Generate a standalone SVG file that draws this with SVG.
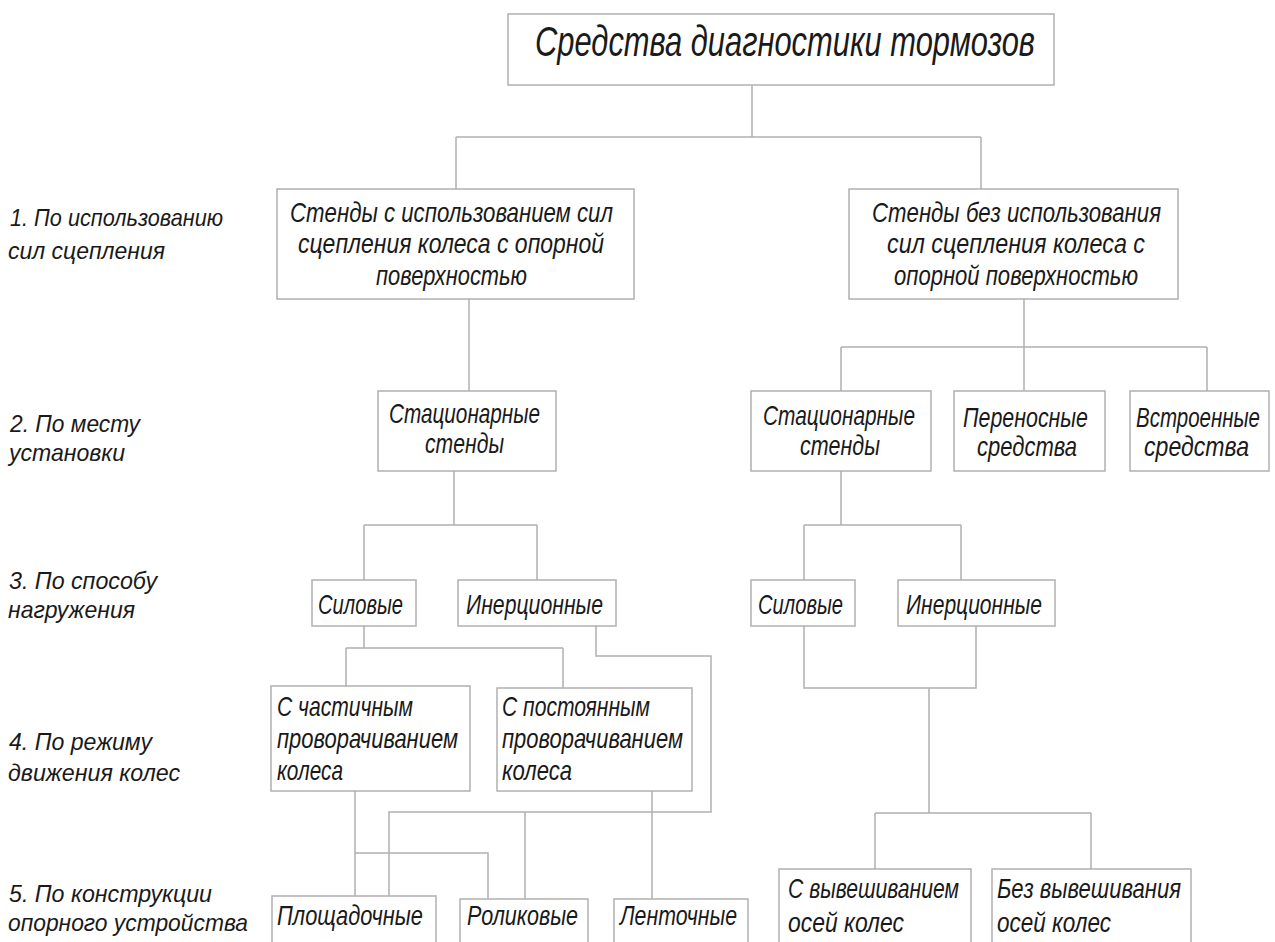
<svg xmlns="http://www.w3.org/2000/svg" width="1275" height="942" viewBox="0 0 1275 942">
<style>
  .box { fill: #ffffff; stroke: #b0b0b0; stroke-width: 1.5; }
  .ln { fill: none; stroke: #b0b0b0; stroke-width: 1.5; }
  text { font-family: "Liberation Sans Narrow", "Liberation Sans", "DejaVu Sans", sans-serif; font-style: italic; fill: #1a1a1a; }
  .t { font-size: 28px; }
  .lb { font-size: 24px; }
  .ti { font-size: 42px; }
</style>
<rect width="1275" height="942" fill="#ffffff"/>

<g id="connectors">
  <path class="ln" d="M752,85 V137 M456,137 H981 M456,137 V189 M981,137 V189"/>
  <path class="ln" d="M469,299 V391"/>
  <path class="ln" d="M1024,299 V391 M841,347 H1207 M841,347 V391 M1207,347 V391"/>
  <path class="ln" d="M454,471 V525 M364,525 H537 M364,525 V580 M537,525 V580"/>
  <path class="ln" d="M841,471 V525 M804,525 H961 M804,525 V580 M961,525 V580"/>
  <path class="ln" d="M364,626 V648 M346,648 H563 M346,648 V686 M563,648 V688"/>
  <path class="ln" d="M596,626 V656 H711 V812 H389 V896 M525,812 V899"/>
  <path class="ln" d="M355,791 V896 M355,853 H488 V899"/>
  <path class="ln" d="M652,791 V899"/>
  <path class="ln" d="M804,626 V688 H976 V626 M929,688 V813 M875,813 H1091 M875,813 V869 M1091,813 V869"/>
</g>

<g id="labels">
  <text class="lb" x="10" y="226" textLength="213" lengthAdjust="spacingAndGlyphs">1. По использованию</text>
  <text class="lb" x="8" y="259" textLength="157" lengthAdjust="spacingAndGlyphs">сил сцепления</text>
  <text class="lb" x="10" y="432" textLength="130" lengthAdjust="spacingAndGlyphs">2. По месту</text>
  <text class="lb" x="9" y="461" textLength="116" lengthAdjust="spacingAndGlyphs">установки</text>
  <text class="lb" x="9" y="589" textLength="148" lengthAdjust="spacingAndGlyphs">3. По способу</text>
  <text class="lb" x="8" y="618" textLength="127" lengthAdjust="spacingAndGlyphs">нагружения</text>
  <text class="lb" x="9" y="750" textLength="143" lengthAdjust="spacingAndGlyphs">4. По режиму</text>
  <text class="lb" x="8" y="781" textLength="172" lengthAdjust="spacingAndGlyphs">движения колес</text>
  <text class="lb" x="9" y="902" textLength="203" lengthAdjust="spacingAndGlyphs">5. По конструкции</text>
  <text class="lb" x="8" y="931" textLength="240" lengthAdjust="spacingAndGlyphs">опорного устройства</text>
</g>

<g id="root">
  <rect class="box" x="508" y="14" width="546" height="71"/>
  <text class="ti" x="535" y="56" textLength="500" lengthAdjust="spacingAndGlyphs">Средства диагностики тормозов</text>
</g>

<g id="with-adhesion">
  <rect class="box" x="277" y="189" width="357" height="110"/>
  <text class="t" x="290" y="222" textLength="323" lengthAdjust="spacingAndGlyphs">Стенды с использованием сил</text>
  <text class="t" x="298" y="253" textLength="306" lengthAdjust="spacingAndGlyphs">сцепления колеса с опорной</text>
  <text class="t" x="376" y="285" textLength="151" lengthAdjust="spacingAndGlyphs">поверхностью</text>
</g>

<g id="without-adhesion">
  <rect class="box" x="849" y="189" width="329" height="110"/>
  <text class="t" x="872" y="222" textLength="289" lengthAdjust="spacingAndGlyphs">Стенды без использования</text>
  <text class="t" x="887" y="253" textLength="258" lengthAdjust="spacingAndGlyphs">сил сцепления колеса с</text>
  <text class="t" x="894" y="285" textLength="244" lengthAdjust="spacingAndGlyphs">опорной поверхностью</text>
</g>

<g id="stationary-left">
  <rect class="box" x="378" y="391" width="178" height="80"/>
  <text class="t" x="389" y="423" textLength="151" lengthAdjust="spacingAndGlyphs">Стационарные</text>
  <text class="t" x="425" y="453" textLength="79" lengthAdjust="spacingAndGlyphs">стенды</text>
</g>

<g id="stationary-right">
  <rect class="box" x="751" y="391" width="180" height="80"/>
  <text class="t" x="763" y="425" textLength="152" lengthAdjust="spacingAndGlyphs">Стационарные</text>
  <text class="t" x="800" y="455" textLength="80" lengthAdjust="spacingAndGlyphs">стенды</text>
</g>

<g id="portable">
  <rect class="box" x="954" y="391" width="151" height="80"/>
  <text class="t" x="963" y="427" textLength="125" lengthAdjust="spacingAndGlyphs">Переносные</text>
  <text class="t" x="977" y="456" textLength="100" lengthAdjust="spacingAndGlyphs">средства</text>
</g>

<g id="built-in">
  <rect class="box" x="1130" y="391" width="139" height="80"/>
  <text class="t" x="1136" y="427" textLength="124" lengthAdjust="spacingAndGlyphs">Встроенные</text>
  <text class="t" x="1144" y="456" textLength="105" lengthAdjust="spacingAndGlyphs">средства</text>
</g>

<g id="power-left">
  <rect class="box" x="312" y="580" width="104" height="46"/>
  <text class="t" x="318" y="614" textLength="85" lengthAdjust="spacingAndGlyphs">Силовые</text>
</g>

<g id="inertial-left">
  <rect class="box" x="458" y="580" width="158" height="46"/>
  <text class="t" x="466" y="614" textLength="137" lengthAdjust="spacingAndGlyphs">Инерционные</text>
</g>

<g id="power-right">
  <rect class="box" x="751" y="580" width="104" height="46"/>
  <text class="t" x="758" y="614" textLength="85" lengthAdjust="spacingAndGlyphs">Силовые</text>
</g>

<g id="inertial-right">
  <rect class="box" x="898" y="580" width="157" height="46"/>
  <text class="t" x="906" y="614" textLength="136" lengthAdjust="spacingAndGlyphs">Инерционные</text>
</g>

<g id="partial-rotation">
  <rect class="box" x="271" y="686" width="199" height="105"/>
  <text class="t" x="277" y="716" textLength="136" lengthAdjust="spacingAndGlyphs">С частичным</text>
  <text class="t" x="277" y="748" textLength="181" lengthAdjust="spacingAndGlyphs">проворачиванием</text>
  <text class="t" x="277" y="780" textLength="66" lengthAdjust="spacingAndGlyphs">колеса</text>
</g>

<g id="constant-rotation">
  <rect class="box" x="497" y="688" width="195" height="103"/>
  <text class="t" x="502" y="716" textLength="148" lengthAdjust="spacingAndGlyphs">С постоянным</text>
  <text class="t" x="502" y="748" textLength="181" lengthAdjust="spacingAndGlyphs">проворачиванием</text>
  <text class="t" x="502" y="780" textLength="70" lengthAdjust="spacingAndGlyphs">колеса</text>
</g>

<g id="platform">
  <rect class="box" x="272" y="896" width="164" height="70"/>
  <text class="t" x="277" y="925" textLength="146" lengthAdjust="spacingAndGlyphs">Площадочные</text>
</g>

<g id="roller">
  <rect class="box" x="460" y="899" width="128" height="70"/>
  <text class="t" x="467" y="925" textLength="111" lengthAdjust="spacingAndGlyphs">Роликовые</text>
</g>

<g id="belt">
  <rect class="box" x="614" y="899" width="134" height="70"/>
  <text class="t" x="620" y="925" textLength="117" lengthAdjust="spacingAndGlyphs">Ленточные</text>
</g>

<g id="with-lifting">
  <rect class="box" x="779" y="869" width="192" height="100"/>
  <text class="t" x="788" y="898" textLength="171" lengthAdjust="spacingAndGlyphs">С вывешиванием</text>
  <text class="t" x="788" y="932" textLength="116" lengthAdjust="spacingAndGlyphs">осей колес</text>
</g>

<g id="without-lifting">
  <rect class="box" x="992" y="869" width="199" height="100"/>
  <text class="t" x="997" y="898" textLength="184" lengthAdjust="spacingAndGlyphs">Без вывешивания</text>
  <text class="t" x="997" y="932" textLength="114" lengthAdjust="spacingAndGlyphs">осей колес</text>
</g>
</svg>
